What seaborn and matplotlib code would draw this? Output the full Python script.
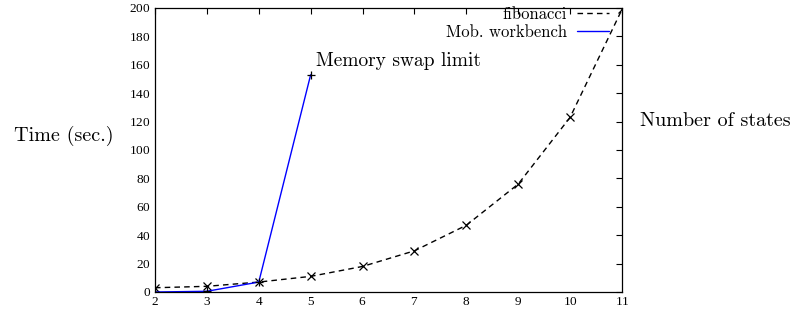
import matplotlib
matplotlib.use("Agg")
import matplotlib.pyplot as plt
import seaborn as sns
import pandas as pd
from matplotlib.lines import Line2D

# Data
fib_x = [2, 3, 4, 5, 6, 7, 8, 9, 10, 11]
fib_y = [3, 4, 7, 11, 18, 29, 47, 76, 123, 199]
mob_x = [2, 3, 4, 5]
mob_y = [0, 0.5, 7, 153]
x_ticks = [2, 3, 4, 5, 6, 7, 8, 9, 10, 11]
y_ticks = list(range(0, 201, 20))

sns.set_theme(style="white")
plt.rcParams["font.family"] = ["cmr10", "DejaVu Serif"]
plt.rcParams["axes.formatter.use_mathtext"] = True
plt.rcParams["text.color"] = "black"
plt.rcParams["axes.labelcolor"] = "black"

fig = plt.figure(figsize=(7.98, 3.11), dpi=100)
ax = fig.add_axes([155 / 798, 19 / 311, 467 / 798, 284 / 311])

fib_df = pd.DataFrame({"x": fib_x, "y": fib_y})
mob_df = pd.DataFrame({"x": mob_x, "y": mob_y})

sns.lineplot(data=fib_df, x="x", y="y", ax=ax, color="black", linewidth=1.0,
             linestyle=(0, (4, 3)), marker="x", markersize=5.5,
             markeredgewidth=0.9, markeredgecolor="black")
sns.lineplot(data=mob_df, x="x", y="y", ax=ax, color="#0000ff", linewidth=1.0,
             marker="+", markersize=6, markeredgewidth=0.9,
             markeredgecolor="#000000")

ax.set_xlim(2, 11)
ax.set_ylim(0, 200)
ax.set_xticks(x_ticks)
ax.set_yticks(y_ticks)
for s in ax.spines.values():
    s.set_visible(True)
    s.set_color("black")
    s.set_linewidth(0.9)

ax.tick_params(direction="in", top=True, right=True, length=4.5, width=0.8,
               labelsize=9.5, pad=3, color="black", labelcolor="black")
for lab in ax.get_xticklabels() + ax.get_yticklabels():
    lab.set_family("Liberation Serif")

ax.set_ylabel("Time (sec.)", rotation=0, fontsize=14.5, ha="center", va="center")
ax.yaxis.set_label_coords(-0.195, 0.549)
ax.set_xlabel("Number of states", fontsize=14.5, ha="center", va="center")
ax.xaxis.set_label_coords(1.199, 0.602)

ax.annotate("Memory swap limit", xy=(mob_x[-1], mob_y[-1]), xytext=(4, 6),
            textcoords="offset points", ha="left", va="baseline", fontsize=14)

# Legend (gnuplot style: right-aligned text, sample on the right)
h1 = Line2D([], [], color="black", linestyle=(0, (4, 3)), linewidth=1.0)
h2 = Line2D([], [], color="#0000ff", linewidth=1.0)
common = dict(frameon=False, markerfirst=False, fontsize=12, handlelength=1.9,
              handletextpad=0.6, borderpad=0, borderaxespad=0, loc="center right")
leg1 = ax.legend([h1], ["fibonacci"], bbox_to_anchor=(0.972, 0.978), **common)
ax.add_artist(leg1)
leg2 = ax.legend([h2], ["Mob. workbench"], bbox_to_anchor=(0.972, 0.915), **common)

fig.savefig("out.png", dpi=100)
